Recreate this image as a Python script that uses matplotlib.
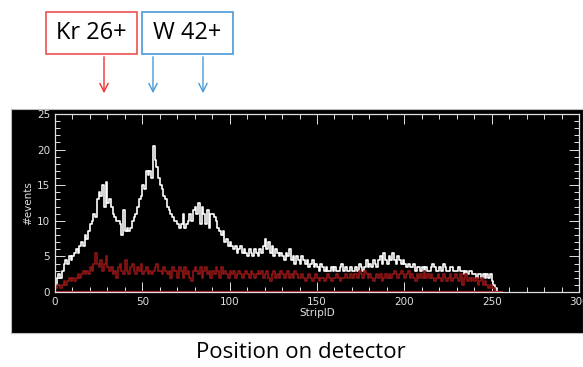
import numpy as np
import matplotlib
matplotlib.use('Agg')
import matplotlib.pyplot as plt
from matplotlib.patches import Rectangle, FancyArrowPatch
from matplotlib.ticker import MultipleLocator

# events per strip (white = all, red = second set)
white = [1, 2, 2.5, 2, 3, 4, 4.5, 4, 5, 4.5,
         5, 5.5, 6, 5.5, 6.5, 7, 6.5, 8, 7.5, 8.5,
         9.5, 10, 11, 10.5, 13, 14, 13.5, 15, 12, 15.5,
         12.5, 13, 12, 11, 10.5, 10, 10, 9.5, 8, 11.5,
         8.5, 9, 8.5, 9, 10, 10.5, 11, 12, 13, 13.5,
         15, 14.5, 17, 16.5, 17, 16, 20.5, 18.5, 17.5, 16,
         15, 14.5, 13.5, 13, 12, 11.5, 11, 10.5, 10, 10,
         9.5, 9, 9.5, 11, 9, 9.5, 10, 11, 10, 11.5,
         12, 11, 12.5, 9.5, 12, 11, 9.5, 11.5, 9, 11,
         11, 10.5, 10, 9, 8.5, 8, 8.5, 7, 7.5, 6.5,
         7, 6.5, 6, 6.5, 5.5, 6, 6.5, 5.5, 6, 5.5,
         5, 6, 5.5, 5, 6, 5.5, 5, 6, 5.5, 6.5,
         7.5, 6, 7, 5.5, 6.5, 5, 6, 5.5, 5, 5.5,
         5, 4.5, 5.5, 5, 6, 4.5, 5, 4, 5, 4.5,
         4, 5, 4.5, 4, 4.5, 3.5, 4, 4.5, 3.5, 4,
         3.5, 3, 4, 3.5, 3, 3.5, 3, 3, 3.5, 3,
         3.5, 3, 3, 3.5, 4, 3, 3.5, 3, 3, 3.5,
         3, 3, 3.5, 3, 4, 3.5, 3, 3.5, 4.5, 3.5,
         4, 3.5, 4.5, 4, 3.5, 4.5, 5, 4, 5.5, 4.5,
         4, 5, 4.5, 5.5, 4.5, 4, 5, 4.5, 4, 4.5,
         4, 3.5, 4, 3.5, 3.5, 4, 3, 3.5, 3.5, 3,
         3.5, 3, 3.5, 3, 3, 3.5, 4, 3.5, 3, 3,
         3.5, 3, 4, 3.5, 3, 3, 3.5, 3.5, 3, 3,
         3, 3.5, 3, 3, 2.5, 3, 2.5, 3, 3, 2.5,
         2.5, 2, 2.5, 2.5, 2, 2.5, 2, 2.5, 2, 2.5,
         1.5, 1, 0.5, 0, 0, 0]

red = [0.5, 1, 1, 0.5, 1, 1.5, 1, 1.5, 2, 1.5,
       2, 1.5, 2, 2.5, 2, 2.5, 3, 2.5, 3, 2.5,
       3.5, 3, 4, 5.5, 4, 3.5, 4.5, 3, 4, 5,
       3.5, 3, 3.5, 2.5, 3, 2, 3.5, 4, 3, 2.5,
       4.5, 3, 2.5, 3.5, 4, 3, 2.5, 3.5, 3, 4,
       2.5, 3, 3.5, 2.5, 3, 2.5, 3, 3.5, 4, 3,
       3, 2.5, 3.5, 3, 2.5, 3, 2, 3.5, 3, 3,
       2, 3.5, 3, 2, 3.5, 2.5, 3, 2, 1.5, 3,
       3.5, 3, 2.5, 3.5, 2, 3, 3.5, 2.5, 3, 2,
       3, 2.5, 3.5, 3, 2, 3.5, 2.5, 3, 2.5, 2,
       3, 2.5, 3, 2, 2.5, 3, 2.5, 2, 2.5, 3,
       2.5, 2, 3, 2.5, 2, 2.5, 3, 2.5, 3, 2,
       2.5, 3, 2, 1.5, 2.5, 3, 2, 2.5, 2, 3,
       2.5, 2, 2.5, 3, 2, 2.5, 2, 3, 2.5, 2,
       2, 2.5, 2, 1.5, 2, 2.5, 2, 1.5, 2, 2.5,
       2, 1.5, 2, 2, 1.5, 2, 2.5, 2, 1.5, 2,
       2, 2.5, 2, 1.5, 2, 2, 2.5, 2, 2, 2.5,
       2, 2.5, 2.5, 2, 3, 2.5, 2, 3, 2.5, 2,
       2.5, 2, 1.5, 2, 2.5, 2, 2.5, 1.5, 2, 2.5,
       2, 2.5, 2, 2.5, 3, 2.5, 2, 2.5, 3, 2.5,
       2, 2.5, 3, 2, 2.5, 2, 1.5, 2.5, 2, 2.5,
       2, 3, 2, 2.5, 2, 2.5, 2, 1.5, 2, 2.5,
       2, 1.5, 2.5, 2, 1.5, 2, 2.5, 1.5, 2, 2.5,
       2, 1.5, 2.5, 1, 2, 2.5, 1.5, 2, 1.5, 2,
       1.5, 2, 1, 1.5, 2, 1, 1.5, 1, 0.5, 1,
       0.5, 0.5, 0, 0, 0, 0]

strips = np.arange(len(white))
fg = '#e0e0e0'

fig = plt.figure(figsize=(5.83, 3.67), dpi=100)
fig.patch.set_facecolor('white')

# black panel behind the plot
panel = fig.add_axes([11/583, 1-333/367, 572/583, 224/367])
panel.set_facecolor('black')
panel.set_xticks([])
panel.set_yticks([])
for s in panel.spines.values():
    s.set_color('#bbbbbb')
    s.set_linewidth(0.8)
panel.set_zorder(0)

ax = fig.add_axes([55/583, 1-292/367, 524/583, 178/367])
ax.set_zorder(1)
ax.set_facecolor('black')
ax.step(strips, white, where='post', color='white', lw=1.2)
ax.step(strips, red, where='post', color='#8e1515', lw=1.2)
ax.plot([0, len(red)], [0, 0], color='#a01818', lw=1.6)

ax.set_xlim(0, 300)
ax.set_ylim(0, 25)
ax.xaxis.set_major_locator(MultipleLocator(50))
ax.xaxis.set_minor_locator(MultipleLocator(10))
ax.yaxis.set_major_locator(MultipleLocator(5))
ax.yaxis.set_minor_locator(MultipleLocator(1))
ax.tick_params(which='both', direction='in', top=True, right=True,
               colors=fg, labelsize=7.5, width=0.7)
ax.tick_params(which='major', length=7)
ax.tick_params(which='minor', length=3.5)
for s in ax.spines.values():
    s.set_color(fg)
    s.set_linewidth(0.9)
ax.set_xlabel('StripID', color=fg, fontsize=7.5, labelpad=1)
ax.set_ylabel('#events', color=fg, fontsize=7.5, labelpad=3)

# labels above
fig.patches.append(Rectangle((46/583, 1-54/367), 91/583, 42/367,
                             transform=fig.transFigure, facecolor='white',
                             edgecolor='#f05050', lw=1.2))
fig.patches.append(Rectangle((142/583, 1-54/367), 91/583, 42/367,
                             transform=fig.transFigure, facecolor='white',
                             edgecolor='#4a9ad8', lw=1.2))
fig.text(91.5/583, 1-33/367, 'Kr 26+', ha='center', va='center',
         fontsize=17, family='Open Sans')
fig.text(187.5/583, 1-33/367, 'W 42+', ha='center', va='center',
         fontsize=17, family='Open Sans')

for xp, c in [(104, '#f03030'), (153, '#4a9ad8'), (203, '#4a9ad8')]:
    fig.add_artist(FancyArrowPatch(
        (xp/583, 1-54/367), (xp/583, 1-96/367), transform=fig.transFigure,
        arrowstyle='->,head_length=6,head_width=3', color=c, lw=1.0))

fig.text(301/583, 1-352/367, 'Position on detector', ha='center', va='center',
         fontsize=16, family='Open Sans')

fig.savefig('out.png', dpi=100)
